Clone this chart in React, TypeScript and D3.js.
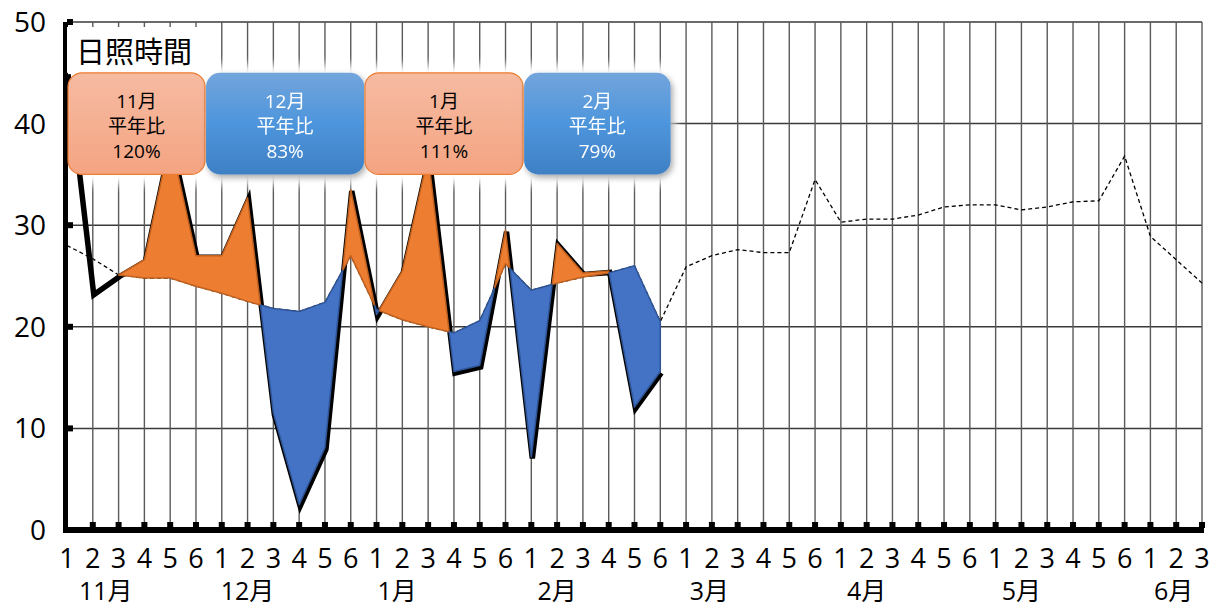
import React from "react";
import * as d3 from "d3";

// ---- data ----
const MONTHS = ["11月", "12月", "1月", "2月", "3月", "4月", "5月", "6月"];
const PERIODS_PER_MONTH = [6, 6, 6, 6, 6, 6, 6, 3];
// where each month label sits, in category index units
const MONTH_LABEL_AT = [1.5, 7, 12.8, 19, 24.9, 31, 37, 42.9];

// 日照時間 (actual), Nov 1 .. Feb 6
const ACTUAL = [
  45, 23.3, 25.1, 26.6, 38.5, 27.0,
  27.0, 32.7, 11.5, 2.5, 8.1, 33.5,
  21.2, 25.5, 36.8, 15.6, 16.2, 29.5,
  7.2, 28.2, 25.3, 25.5, 12.1, 15.6,
];
// 平年値 (normal), Nov 1 .. Jun 3
const NORMAL = [
  28.0, 26.7, 25.1, 24.8, 24.8, 24.0,
  23.3, 22.5, 21.8, 21.5, 22.4, 27.0,
  21.7, 20.7, 20.0, 19.4, 20.6, 26.2,
  23.6, 24.3, 24.9, 25.3, 26.0, 20.5,
  25.9, 27.0, 27.6, 27.3, 27.3, 34.5,
  30.3, 30.6, 30.6, 31.0, 31.8, 32.0,
  32.0, 31.5, 31.8, 32.3, 32.4, 36.8,
  28.9, 26.6, 24.3,
];
const FILL_START = 2;

const BOX_MONTHS = ["11月", "12月", "1月", "2月"];
const BOX_RATIOS = [120, 83, 111, 79];
const Y_TICKS = [0, 10, 20, 30, 40, 50];
const TITLE = "日照時間";

// box extents in category-index units (layout)
const BOX_FROM = [0.04, 5.39, 11.55, 17.72];
const BOX_TO = [5.35, 11.52, 17.68, 23.4];

const FONT = "'Open Sans', 'Noto Sans CJK JP', sans-serif";

type P = { x: number; a: number; n: number };

export default function App() {
  const W = 1214, H = 607;
  const N = NORMAL.length;
  const x = d3.scaleLinear().domain([0, N - 1]).range([67, 1202]);
  const y = d3.scaleLinear().domain([0, 50]).range([530, 22]);

  const catLabels: string[] = [];
  PERIODS_PER_MONTH.forEach((c) => {
    for (let k = 1; k <= c; k++) catLabels.push(String(k));
  });

  const pts: P[] = [];
  for (let i = FILL_START; i < ACTUAL.length; i++) {
    pts.push({ x: i, a: ACTUAL[i], n: NORMAL[i] });
    if (i + 1 < ACTUAL.length) {
      const d0 = ACTUAL[i] - NORMAL[i];
      const d1 = ACTUAL[i + 1] - NORMAL[i + 1];
      if (d0 * d1 < 0) {
        const t = d0 / (d0 - d1);
        const v = ACTUAL[i] + t * (ACTUAL[i + 1] - ACTUAL[i]);
        pts.push({ x: i + t, a: v, n: v });
      }
    }
  }
  const runs = (sign: number) => {
    const out: P[][] = [];
    let cur: P[] = [];
    for (let i = 0; i < pts.length - 1; i++) {
      const p = pts[i], q = pts[i + 1];
      const dm = (p.a - p.n + (q.a - q.n)) / 2;
      if (dm * sign > 0) {
        if (!cur.length) cur.push(p);
        cur.push(q);
      } else {
        if (cur.length) out.push(cur);
        cur = [];
      }
    }
    if (cur.length) out.push(cur);
    return out;
  };
  const area = d3
    .area<P>()
    .x((d) => x(d.x))
    .y0((d) => y(d.n))
    .y1((d) => y(d.a));
  const line = d3
    .line<number>()
    .x((_, i) => x(i))
    .y((d) => y(d));

  const boxes = BOX_MONTHS.map((m, k) => ({
    m,
    r: BOX_RATIOS[k],
    x0: x(BOX_FROM[k]),
    x1: x(BOX_TO[k]),
    warm: BOX_RATIOS[k] >= 100,
  }));
  const by0 = y(45), by1 = y(35);

  return (
    <svg
      width={W}
      height={H}
      style={{ position: "absolute", left: 0, top: 0, background: "#fff" }}
      fontFamily={FONT}
    >
      <defs>
        <linearGradient id="gOrange" x1="0" y1="0" x2="0" y2="1">
          <stop offset="0" stopColor="#F6BBA2" />
          <stop offset="1" stopColor="#F4A482" />
        </linearGradient>
        <linearGradient id="gBlue" x1="0" y1="0" x2="0" y2="1">
          <stop offset="0" stopColor="#73A5DC" />
          <stop offset="0.5" stopColor="#4D95DC" />
          <stop offset="1" stopColor="#3F80C4" />
        </linearGradient>
        <filter id="glow" x="-20%" y="-40%" width="140%" height="180%">
          <feGaussianBlur stdDeviation="5" />
        </filter>
        <filter id="shadow" x="-10%" y="-20%" width="125%" height="150%">
          <feDropShadow dx="2" dy="3" stdDeviation="3" floodColor="#000" floodOpacity="0.35" />
        </filter>
      </defs>

      {Y_TICKS.filter((t) => t > 0).map((t) => (
        <line key={"h" + t} x1={x(0)} x2={x(N - 1)} y1={y(t)} y2={y(t)} stroke="#3a3a3a" strokeWidth={1.5} />
      ))}
      {d3.range(1, N).map((i) => (
        <line key={"v" + i} x1={x(i)} x2={x(i)} y1={y(50)} y2={y(0)} stroke="#5a5a5a" strokeWidth={1.4} />
      ))}

      <rect x={x(0) - 1} y={27} width={140} height={by0 - 27} fill="#fff" />

      {boxes.map((b, k) => (
        <rect key={"g" + k} x={b.x0 - 4} y={by0 - 8} width={b.x1 - b.x0 + 8} height={by1 - by0 + 18} fill="#fff" filter="url(#glow)" />
      ))}

      <path d={line(NORMAL) || ""} fill="none" stroke="#000" strokeWidth={1.3} strokeDasharray="4,3" />

      <path d={line(ACTUAL) || ""} fill="none" stroke="#000" strokeWidth={5.5} strokeLinejoin="miter" transform="translate(1,1.5)" />

      {runs(1).map((r, k) => (
        <path key={"o" + k} d={area(r) || ""} fill="#ED7D31" stroke="#C1611F" strokeWidth={1.5} strokeLinejoin="round" />
      ))}
      {runs(-1).map((r, k) => (
        <path key={"b" + k} d={area(r) || ""} fill="#4472C4" stroke="#2F5597" strokeWidth={1.5} strokeLinejoin="round" />
      ))}

      <line x1={x(0) - 1.5} x2={x(0) - 1.5} y1={y(50)} y2={y(0) + 3} stroke="#000" strokeWidth={5} />
      <rect x={x(0)} y={27} width={3} height={by0 - 27} fill="#fff" />
      <line x1={x(0) - 4} x2={x(N - 1) + 2} y1={y(0)} y2={y(0)} stroke="#000" strokeWidth={6} />
      {Y_TICKS.map((t) => (
        <rect key={"yt" + t} x={x(0)} y={y(t) - 3} width={6} height={6} fill="#000" />
      ))}
      {d3.range(1, N).map((i) => (
        <rect key={"xt" + i} x={x(i) - 3} y={y(0) - 8} width={6} height={6} fill="#000" />
      ))}

      <text x={76} y={63} fontSize={29} fill="#000" fontFamily="'Noto Sans CJK JP', sans-serif">{TITLE}</text>

      {boxes.map((b, k) => (
        <g key={"bx" + k} filter={b.warm ? undefined : "url(#shadow)"}>
          <rect
            x={b.x0}
            y={by0}
            width={b.x1 - b.x0}
            height={by1 - by0}
            rx={14}
            fill={b.warm ? "url(#gOrange)" : "url(#gBlue)"}
            stroke={b.warm ? "#ED7D31" : "none"}
            strokeWidth={1.2}
          />
          {[b.m, "平年比", b.r + "%"].map((s, j) => (
            <text
              key={j}
              x={(b.x0 + b.x1) / 2}
              y={by0 + 35 + j * 25}
              textAnchor="middle"
              fontSize={19}
              fill={b.warm ? "#000" : "#fff"}
            >
              {s}
            </text>
          ))}
        </g>
      ))}

      {Y_TICKS.map((t) => (
        <text key={"yl" + t} x={46} y={y(t) + 10} textAnchor="end" fontSize={28} fill="#000">
          {t}
        </text>
      ))}
      {catLabels.map((s, i) => (
        <text key={"xl" + i} x={x(i)} y={568} textAnchor="middle" fontSize={27} fill="#000">
          {s}
        </text>
      ))}
      {MONTHS.map((m, k) => (
        <text key={"ml" + k} x={x(MONTH_LABEL_AT[k])} y={600} textAnchor="middle" fontSize={25} fill="#000">
          {m}
        </text>
      ))}
    </svg>
  );
}
